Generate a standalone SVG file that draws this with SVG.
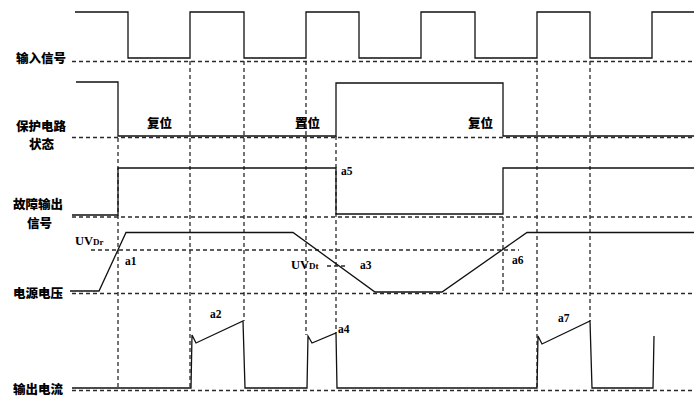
<svg xmlns="http://www.w3.org/2000/svg" width="694" height="397" viewBox="0 0 694 397">
<style>
.sig{fill:none;stroke:#111;stroke-width:1.3;stroke-linejoin:miter}
.dash{fill:none;stroke:#2a2a2a;stroke-width:1.3;stroke-dasharray:4 3}
.lbl{font-family:"Noto Sans CJK SC","Noto Sans CJK JP",sans-serif;font-weight:900;font-size:12.5px;fill:#000}
.pt{font-family:"Liberation Serif",serif;font-weight:bold;font-size:11.5px;fill:#000}
.uv{font-family:"Liberation Serif",serif;font-weight:bold;font-size:12.5px;fill:#000}
.sub{font-size:9px}
</style>
<rect width="694" height="397" fill="#fff"/>
<g id="connectors">
  <path class="dash" d="M72 61.5H694"/>
  <path class="dash" d="M72 137.5H694"/>
  <path class="dash" d="M72 217H694"/>
  <path class="dash" d="M91 250H519"/>
  <path class="dash" d="M72 293.5H694"/>
  <path class="dash" d="M72 390.5H694"/>
  <path class="dash" d="M327 266H347"/>
  <path class="dash" d="M118 138V388"/>
  <path class="dash" d="M190 61V388"/>
  <path class="dash" d="M244 61V321"/>
  <path class="dash" d="M306 61V335"/>
  <path class="dash" d="M336 136V333"/>
  <path class="dash" d="M503 217V293"/>
  <path class="dash" d="M537 61V388"/>
  <path class="dash" d="M590 61V321"/>
</g>
<g id="input-signal">
  <text class="lbl" x="16" y="63">输入信号</text>
  <polyline class="sig" points="75,12 128,12 128,58 190,58 190,12 244,12 244,58 306,58 306,12 359,12 359,58 421,58 421,12 475,12 475,58 537,58 537,12 590,12 590,58 652,58 652,12 694,12"/>
</g>
<g id="protection-state">
  <text class="lbl" x="16" y="131">保护电路</text>
  <text class="lbl" x="29" y="149">状态</text>
  <polyline class="sig" points="76,82 118,82 118,136 336,136 336,83 503,83 503,136 694,136"/>
  <text class="lbl" x="147" y="128">复位</text>
  <text class="lbl" x="295" y="128">置位</text>
  <text class="lbl" x="468" y="128">复位</text>
</g>
<g id="fault-output">
  <text class="lbl" x="13" y="209">故障输出</text>
  <text class="lbl" x="27" y="228">信号</text>
  <polyline class="sig" points="72,215 118,215 118,168 336,168 336,214 503,214 503,168 694,168"/>
  <text class="pt" x="341" y="175">a5</text>
</g>
<g id="supply-voltage">
  <text class="lbl" x="13" y="298">电源电压</text>
  <polyline class="sig" points="70,291 99,291 126,232.5 293,232.5 375,292 442,292 527,232.5 694,232.5"/>
  <text class="uv" x="75" y="245">UV<tspan class="sub">Dr</tspan></text>
  <text class="pt" x="125" y="265">a1</text>
  <text class="uv" x="291" y="269">UV<tspan class="sub">Dt</tspan></text>
  <text class="pt" x="360" y="269">a3</text>
  <text class="pt" x="512" y="264">a6</text>
</g>
<g id="output-current">
  <text class="lbl" x="13" y="394">输出电流</text>
  <polyline class="sig" points="72,388 191,388 192,335 196,343 243,321 245,388 307,388 308,336 312,343 336,333 337,388 537,388 538,336 542,344 590,321 592,388 653,388 654,336"/>
  <text class="pt" x="210" y="318">a2</text>
  <text class="pt" x="338" y="333">a4</text>
  <text class="pt" x="558" y="322">a7</text>
</g>
</svg>
